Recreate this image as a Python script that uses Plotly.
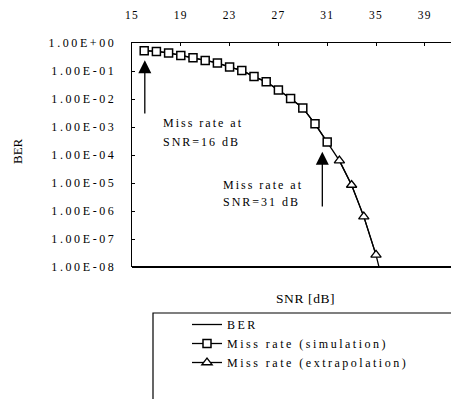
import plotly.graph_objects as go

# ---- data ----
snr_sim = [16, 17, 18, 19, 20, 21, 22, 23, 24, 25, 26, 27, 28, 29, 30, 31]
miss_sim = [0.53, 0.50, 0.44, 0.355, 0.30, 0.237, 0.195, 0.138, 0.105, 0.063,
            0.041, 0.021, 0.0105, 0.0048, 0.0013, 2.9e-4]
snr_ext = [32, 33, 34, 35]
miss_ext = [6.3e-5, 8.5e-6, 6.3e-7, 2.7e-8]
snr_ber = snr_sim + snr_ext + [35.3]
ber = miss_sim + miss_ext + [8e-9]

x_ticks = [15, 19, 23, 27, 31, 35, 39]
y_ticks = [1e0, 1e-1, 1e-2, 1e-3, 1e-4, 1e-5, 1e-6, 1e-7, 1e-8]
y_ticktext = ["1.00E+00", "1.00E-01", "1.00E-02", "1.00E-03", "1.00E-04",
              "1.00E-05", "1.00E-06", "1.00E-07", "1.00E-08"]

SERIF = "Liberation Serif, Times New Roman, serif"


def sp(t, ls):
    return f'<span style="letter-spacing:{ls}px">{t}</span>'


fig = go.Figure()
fig.add_trace(go.Scatter(x=snr_ber, y=ber, mode="lines", name=sp("BER", 2.5),
                         line=dict(color="black", width=1.3)))
fig.add_trace(go.Scatter(x=snr_sim, y=miss_sim, mode="lines+markers",
                         name=sp("Miss rate (simulation)", 2.5),
                         line=dict(color="black", width=1.3),
                         marker=dict(symbol="square", size=8, color="white",
                                     line=dict(color="black", width=1.5))))
fig.add_trace(go.Scatter(x=snr_ext, y=miss_ext, mode="lines+markers",
                         name=sp("Miss rate (extrapolation)", 2.5),
                         line=dict(color="black", width=1.3),
                         marker=dict(symbol="triangle-up", size=9, color="white",
                                     line=dict(color="black", width=1.3))))

# the page body adds an 8px offset; lay out in window pixels minus that offset
OFF = 8
W, H = 459 - OFF, 399 - OFF
L = 132 - OFF
T = 43 - OFF
B = H - (267 - OFF)
PW = W - L
PH = H - T - B


def px(x):
    return (x - OFF - L) / PW


def py(y):
    return (H - B - (y - OFF)) / PH


annotations = []
# arrows
for xa, tip, tail in [(16.05, -0.62, -2.57), (30.6, -3.88, -5.89)]:
    annotations.append(dict(x=xa, y=tip, ax=xa, ay=tail, xref="x", yref="y",
                            axref="x", ayref="y", text="", showarrow=True,
                            arrowhead=2, arrowsize=2, arrowwidth=1.3,
                            arrowcolor="black", standoff=0))
# texts
for txt, xa, ya in [("Miss rate at", 17.4, -2.86), ("SNR=16 dB", 17.4, -3.54),
                    ("Miss rate at", 22.3, -5.07), ("SNR=31 dB", 22.3, -5.68)]:
    annotations.append(dict(x=xa, y=ya, xref="x", yref="y", text=sp(txt, 2),
                            showarrow=False, xanchor="left", yanchor="middle",
                            font=dict(family=SERIF, size=12, color="black")))
# axis titles
annotations.append(dict(x=px(17), y=py(151), xref="paper", yref="paper",
                        xanchor="center", yanchor="middle",
                        text="BER", textangle=-90, showarrow=False,
                        font=dict(family=SERIF, size=13, color="black")))
annotations.append(dict(x=px(305), y=py(298), xref="paper", yref="paper",
                        xanchor="center", yanchor="middle",
                        text=sp("SNR [dB]", 0.6), showarrow=False,
                        font=dict(family=SERIF, size=13.5, color="black")))

shapes = [
    # bottom axis line
    dict(type="line", xref="paper", yref="paper", x0=0, x1=1.05, y0=0, y1=0,
         line=dict(color="black", width=1.8)),
    # legend frame
    dict(type="rect", xref="paper", yref="paper", x0=px(153), x1=px(480),
         y0=py(313), y1=py(420), line=dict(color="black", width=1.2)),
]

fig.update_layout(
    width=W, height=H,
    margin=dict(l=L, r=0, t=T, b=B),
    paper_bgcolor="white", plot_bgcolor="white",
    font=dict(family=SERIF, color="black"),
    showlegend=True,
    legend=dict(x=px(187), y=py(310), xanchor="left", yanchor="top",
                bgcolor="rgba(0,0,0,0)", borderwidth=0,
                font=dict(family=SERIF, size=12, color="black"),
                tracegroupgap=0),
    annotations=annotations,
    shapes=shapes,
)

fig.update_xaxes(range=[15, 15 + PW / 12.2], side="top",
                 tickvals=x_ticks, ticktext=[sp(str(v), 1.2) for v in x_ticks],
                 tickfont=dict(family=SERIF, size=11.5, color="black"),
                 showline=True, linecolor="black", linewidth=1,
                 ticks="inside", ticklen=3, tickcolor="black",
                 showgrid=False, zeroline=False, ticklabelstandoff=18)
fig.update_yaxes(type="log", range=[-8, 0],
                 tickvals=y_ticks, ticktext=[sp(t, 2.6) for t in y_ticktext],
                 tickfont=dict(family=SERIF, size=12, color="black"),
                 showline=True, linecolor="black", linewidth=1.3,
                 ticks="inside", ticklen=3, tickcolor="black",
                 showgrid=False, zeroline=False, ticklabelstandoff=12)

fig.write_html("out.html")
